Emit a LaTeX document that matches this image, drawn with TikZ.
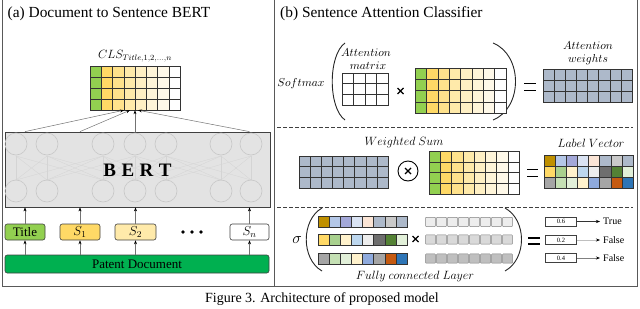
\documentclass[tikz,border=0pt]{standalone}
\usepackage{fix-cm}
\usepackage{fontspec}
\setmainfont{Liberation Serif}
\usetikzlibrary{arrows.meta}
\definecolor{cA}{HTML}{92D050}
\definecolor{cB}{HTML}{FFD966}
\definecolor{cC}{HTML}{FFE28C}
\definecolor{cD}{HTML}{FFEAAA}
\definecolor{cE}{HTML}{FFF0C4}
\definecolor{cF}{HTML}{FFF5D9}
\definecolor{cG}{HTML}{FFF9E9}
\definecolor{pdgreen}{HTML}{00B050}
\definecolor{bgrey}{HTML}{ADB9CA}
\definecolor{lgold}{HTML}{BF9000}
\definecolor{llb}{HTML}{B4C7E7}
\definecolor{llav}{HTML}{A3A8D8}
\definecolor{lpb}{HTML}{DAE3F3}
\definecolor{lpeach}{HTML}{FBE5D6}
\definecolor{lgr}{HTML}{C9C9C9}
\definecolor{lyel}{HTML}{FFD966}
\definecolor{lgrn}{HTML}{A9D18E}
\definecolor{lcream}{HTML}{FFF2CC}
\definecolor{lsky}{HTML}{BDD7EE}
\definecolor{lwg}{HTML}{EDEDED}
\definecolor{ldg}{HTML}{6E6E6E}
\definecolor{ldgrn}{HTML}{548235}
\definecolor{lpg}{HTML}{E2F0D9}
\definecolor{lmg}{HTML}{A5A5A5}
\definecolor{lgrn2}{HTML}{C5E0B4}
\definecolor{lblue}{HTML}{8FAADC}
\definecolor{lorange}{HTML}{C55A11}
\definecolor{ldblue}{HTML}{2E75B6}
\newcommand\mygrid[7]{%
  \foreach \ii in {1,...,#5}{\foreach \jj in {1,...,#6}{%
    \draw[cell,fill=#7] ({#1+(\ii-1)*#3},{#2+(\jj-1)*#4}) rectangle ++(#3,#4);}}}
\newcommand\clsgrid[4]{%
  \foreach \cc [count=\ii from 0] in {cA,cB,cC,cD,cE,cF,cG,white}{\foreach \jj in {0,...,3}{%
    \draw[cell,fill=\cc] ({#1+\ii*#3},{#2+\jj*#4}) rectangle ++(#3,#4);}}}
\newcommand\lvrow[5]{%
  \foreach \cc [count=\ii from 0] in {#5}{%
    \draw[cell,fill=\cc] ({#1+\ii*#3},{#2}) rectangle ++(#3,#4);}}
\newcommand\fcrow[4]{%
  \foreach \ii in {0,...,7}{%
    \draw[fccell,fill=#4] ({#1+\ii*#3+0.6},{#2+0.6}) rectangle ++({#3-1.2},9.3);}}
\begin{document}
\begin{tikzpicture}[x=1pt,y=-1pt,
  cell/.style={draw=black!80,line width=0.5pt},
  fccell/.style={draw=black!50,line width=0.45pt,rounded corners=0.6pt},
  neuron/.style={draw=black!22,line width=0.6pt},
  nline/.style={draw=black!17,line width=0.3pt},
  box/.style={draw=black!75,rounded corners=2.2pt,line width=0.6pt,minimum height=16pt,inner sep=0pt,font=\fontsize{13}{14}\selectfont},
  arr/.style={-{Stealth[length=4pt,width=3pt,black]},line width=0.5pt,draw=black!55},
  frame/.style={draw=black!65,line width=0.8pt},
  paren/.style={draw=black!85,line width=0.9pt},
  dsh/.style={draw=black!75,line width=0.6pt,dash pattern=on 3.5pt off 2.5pt},
  mi/.style={font=\fontsize{11.5}{13}\selectfont,inner sep=0pt},
  eqbar/.style={draw=black,line width=1.8pt},
  xmark/.style={draw=black,line width=1.3pt},
  obox/.style={draw=black!75,line width=0.5pt,minimum width=31pt,minimum height=9pt,inner sep=0pt,font=\fontsize{6.5}{7}\selectfont},
  olbl/.style={anchor=west,inner sep=0pt,font=\fontsize{10}{11}\selectfont}]
\useasboundingbox (0,0) rectangle (640,308);
% frame
\draw[frame] (2,0) -- (2,286) -- (637,286) -- (637,0);
\draw[frame] (274,0) -- (274,286);
% titles
\node[anchor=west,inner sep=0,font=\fontsize{15.4}{18}\selectfont] (ta) at (7.5,14) {(a) Document to Sentence BERT};
\node[anchor=west,inner sep=0,font=\fontsize{15.4}{18}\selectfont] (tb) at (280,14) {(b) Sentence Attention Classifier};
\node[font=\fontsize{14}{16}\selectfont] (cap) at (322,299) {Figure 3. Architecture of proposed model};
% ----- panel (a)
\node[font=\fontsize{12}{13}\selectfont] (clslbl) at (135,56) {$CLS_{Title,1,2,\ldots,n}$};
\node[inner sep=0,minimum width=90,minimum height=44] (cls) at (135,88) {};
\clsgrid{90}{66}{11.25}{11}
\node[draw=black!75,fill=black!11,line width=0.8pt,minimum width=265,minimum height=75,inner sep=0] (bert) at (137.5,169.5) {};
\foreach \a [count=\i] in {16,47,103,135,166,221,251}{
  \foreach \b [count=\j] in {16,47,103,135,166,221,251}{
    \pgfmathtruncatemacro\dd{abs(\i-\j)}
    \ifnum\dd<3 \draw[nline] (\a,156) -- (\b,180); \fi
  }
  \draw[neuron] (\a,144) circle[radius=11pt];
  \draw[neuron] (\a,191) circle[radius=11pt];
}
\node[font=\fontsize{19}{20}\selectfont\bfseries] (berttxt) at (137.5,170) {B\hspace{5.5pt}E\hspace{5.5pt}R\hspace{5.5pt}T};
\node[box,fill=cA,minimum width=40] (title) at (25,232) {Title};
\node[box,fill=cB,minimum width=40] (s1) at (80,232) {$S_1$};
\node[box,fill=cD,minimum width=41] (s2) at (135.5,232) {$S_2$};
\node[box,fill=white,minimum width=39] (sn) at (249.5,232) {$S_n$};
\foreach \px in {183,192,201}{\fill (\px,232) circle[radius=1.9pt];}
\node[box,fill=pdgreen,minimum width=264,minimum height=18] (pd) at (137,264) {Patent Document};
\foreach \b in {title,s1,s2,sn}{
  \draw[arr] (pd.north -| \b.south) -- (\b.south);
  \draw[arr] (\b.north) -- (bert.south -| \b.north);
}
\draw[arr] (bert.north -| title.north) -- ([xshift=-11pt]cls.south);
\draw[arr] (bert.north -| s1.north) -- ([xshift=-5pt]cls.south);
\draw[arr] (bert.north -| cls.south) -- (cls.south);
\draw[arr] (bert.north -| sn.north) -- ([xshift=3pt]cls.south);
% ----- panel (b) top
\node[mi] (softmax) at (301,84) {$Softmax$};
\draw[paren] (345,43) .. controls (328,55) and (328,108) .. (345,120);
\draw[paren] (493,43) .. controls (523,55) and (523,108) .. (493,120);
\node[mi] (amlbl1) at (366,53) {$Attention$};
\node[mi] (amlbl2) at (368,66) {$matrix$};
\mygrid{342}{73}{11.5}{10.67}{4}{3}{white}
\draw[xmark] (397.5,88) -- (403.5,94) (397.5,94) -- (403.5,88);
\clsgrid{415}{68}{11.375}{11.25}
\draw[eqbar] (524,83.5) -- (536,83.5);
\draw[eqbar] (524,90.5) -- (536,90.5);
\node[mi] (awlbl1) at (588,46) {$Attention$};
\node[mi] (awlbl2) at (588,60) {$weights$};
\mygrid{543}{69}{11.125}{11}{8}{3}{bgrey}
\draw[dsh] (277,127) -- (633,127);
% ----- middle
\node[font=\fontsize{12}{13}\selectfont] (wslbl) at (404,142) {$Weighted\ Sum$};
\mygrid{299}{156}{11.125}{10.67}{8}{3}{bgrey}
\node[draw=black,circle,line width=0.9pt,minimum size=20pt,inner sep=0] (otimes) at (408,171) {};
\draw[xmark] ([shift={(-3,-3)}]otimes.center) -- ([shift={(3,3)}]otimes.center);
\draw[xmark] ([shift={(-3,3)}]otimes.center) -- ([shift={(3,-3)}]otimes.center);
\clsgrid{429}{151}{11.25}{10.75}
\draw[eqbar] (527,169.5) -- (538,169.5);
\draw[eqbar] (527,176.5) -- (538,176.5);
\node[font=\fontsize{12}{13}\selectfont] (lvlbl) at (591,143) {$Label\ Vector$};
\lvrow{544}{155}{11.125}{11}{lgold,llb,llav,lpb,lpeach,bgrey,lgr,bgrey}
\lvrow{544}{166}{11.125}{11}{lyel,lgrn,lcream,lsky,lwg,ldg,ldgrn,lpg}
\lvrow{544}{177}{11.125}{11}{lmg,lgrn2,lpg,lcream,lblue,lmg,lorange,ldblue}
\draw[dsh] (277,207) -- (633,207);
% ----- bottom
\node[font=\fontsize{16}{17}\selectfont] (sigma) at (297,240) {$\sigma$};
\draw[paren] (322,208) .. controls (301,220) and (301,259) .. (322,271);
\draw[paren] (505,208) .. controls (527,220) and (527,259) .. (505,271);
\lvrow{318}{216.7}{11.125}{10.5}{lgold,llb,llav,lpb,lpeach,bgrey,lgr,bgrey}
\lvrow{318}{234.3}{11.125}{10.5}{lyel,lgrn,lcream,lsky,lwg,ldg,ldgrn,lpg}
\lvrow{318}{253.3}{11.125}{10.5}{lmg,lgrn2,lpg,lcream,lblue,lmg,lorange,ldblue}
\draw[xmark] (412.5,236) -- (418.5,242) (412.5,242) -- (418.5,236);
\fcrow{425}{216.7}{11}{black!7}
\fcrow{425}{234.3}{11}{black!15}
\fcrow{425}{253.3}{11}{black!25}
\node[font=\fontsize{12}{13}\selectfont] (fclbl) at (415,276) {$Fully\ connected\ Layer$};
\draw[eqbar] (528,238.3) -- (540,238.3);
\draw[eqbar] (528,244.3) -- (540,244.3);
\node[obox] (o1) at (561,221.5) {0.6};
\node[obox] (o2) at (561,240) {0.2};
\node[obox] (o3) at (561,258) {0.4};
\node[olbl] (l1) at (603,221.5) {True};
\node[olbl] (l2) at (603,240) {False};
\node[olbl] (l3) at (603,258) {False};
\draw[arr,draw=black!80,shorten >=3pt] (o1) -- (l1);
\draw[arr,draw=black!25,shorten >=3pt] (o2) -- (l2);
\draw[arr,draw=black!50,line width=0.8pt,shorten >=3pt] (o3) -- (l3);
\end{tikzpicture}
\end{document}
